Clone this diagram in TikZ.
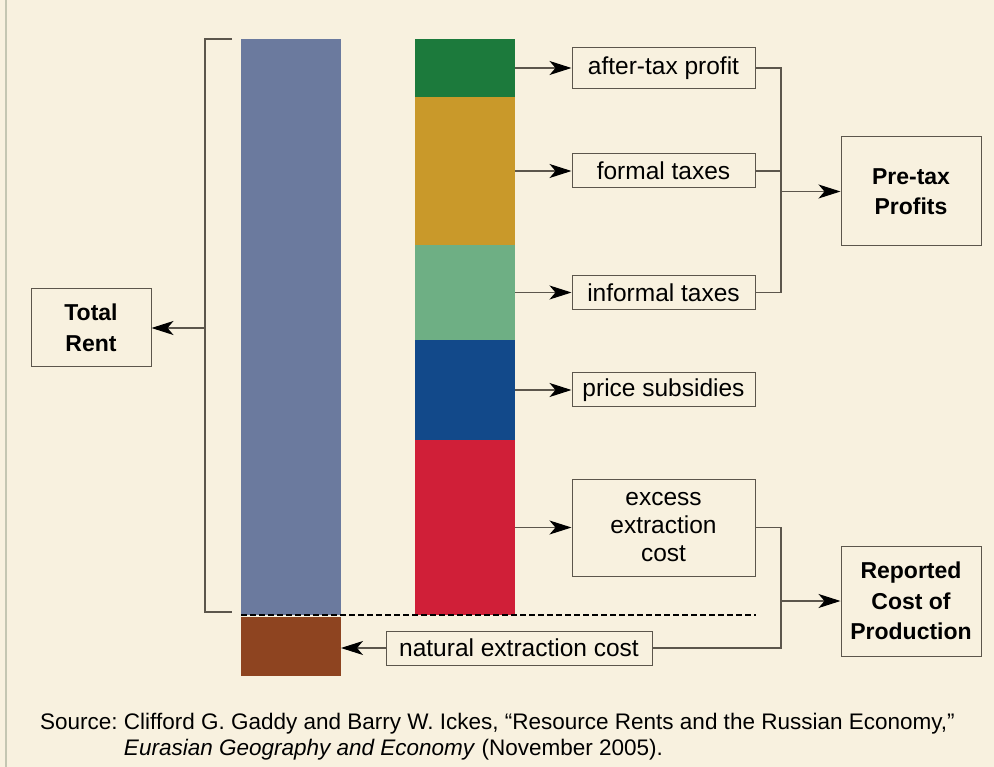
\documentclass[tikz,border=0pt]{standalone}
\usepackage{fontspec}
\setmainfont{Liberation Sans}
\usetikzlibrary{arrows.meta,positioning}
\definecolor{PaperCream}{RGB}{248,241,223}
\definecolor{EdgeGrey}{RGB}{196,198,178}
\definecolor{LineGrey}{RGB}{92,86,76}
\definecolor{RentBlue}{RGB}{107,122,158}
\definecolor{CostBrown}{RGB}{142,68,32}
\definecolor{ProfitGreen}{RGB}{28,122,60}
\definecolor{TaxGold}{RGB}{201,153,42}
\definecolor{InformalGreen}{RGB}{110,175,132}
\definecolor{SubsidyBlue}{RGB}{18,73,138}
\definecolor{ExcessRed}{RGB}{208,31,56}
\frenchspacing

\begin{document}
\begin{tikzpicture}[x=1pt,y=-1pt,
    seg/.style={fill=#1,draw=none,minimum width=100pt,inner sep=0pt,outer sep=0pt},
    itembox/.style={draw=LineGrey,line width=1pt,minimum width=183pt,inner sep=0pt,
      align=center,font=\fontsize{24.5}{28}\selectfont},
    sumbox/.style={draw=LineGrey,line width=1pt,minimum width=140pt,inner sep=0pt,
      align=center,font=\fontsize{23}{30.5}\selectfont\bfseries},
    link/.style={draw=LineGrey,line width=1.1pt},
    feed/.style={link,-{Stealth[length=22pt,width=14pt,inset=6pt,color=black]}},
    srcline/.style={anchor=base west,inner sep=0pt,font=\fontsize{22.5}{26}\selectfont}]
  % page
  \useasboundingbox (0,0) rectangle (994,767);
  \fill[PaperCream] (0,0) rectangle (994,767);
  \draw[EdgeGrey,line width=1.5pt] (6,0) -- (6,767);

  % bars
  \node[seg=RentBlue,minimum height=576pt] (rent) at (291,327) {};
  \node[seg=CostBrown,minimum height=59pt] (natcost) at (291,646.5) {};
  \foreach \name/\col/\ya/\yb in {profit/ProfitGreen/39/97,formal/TaxGold/97/245,
      informal/InformalGreen/245/340,subsidy/SubsidyBlue/340/440,excess/ExcessRed/440/615}
    \node[seg=\col,minimum height=\yb pt-\ya pt] (seg-\name) at (465,{(\ya+\yb)/2}) {};

  % item boxes
  \node[itembox,minimum height=41pt] (box-profit) at (663.5,68) {after-tax profit};
  \node[itembox,minimum height=34pt] (box-formal) at (663.5,171) {formal taxes};
  \node[itembox,minimum height=34pt] (box-informal) at (663.5,292.5) {informal taxes};
  \node[itembox,minimum height=34pt] (box-subsidy) at (663.5,390) {price subsidies};
  \node[itembox,minimum height=97pt] (box-excess) at (663.5,527.5) {excess\\extraction\\cost};
  \node[itembox,minimum width=266pt,minimum height=34pt] (natural) at (519,648) {natural extraction cost};

  % summary boxes
  \node[sumbox,minimum width=120pt,minimum height=78pt] (total) at (91,328) {Total\\Rent};
  \node[sumbox,minimum height=109pt] (pretax) at (911,191.5) {Pre-tax\\Profits};
  \node[sumbox,minimum height=110pt] (reported) at (911,601) {Reported\\Cost of\\Production};

  % bar to item arrows
  \foreach \name in {profit,formal,informal,subsidy,excess}
    \draw[feed] (seg-\name.east) -- (box-\name.west);
  \draw[feed] (natural.west) -- (natural.west -| natcost.east);

  % total rent bracket
  \coordinate (brk) at (205,328);
  \draw[link] (232,39) -| (brk |- 0,612) -- (232,612);
  \draw[feed] (brk) -- (total.east);

  % profit bracket
  \coordinate (bus) at (781,0);
  \draw[link] (box-profit.east) -- (box-profit.east -| bus) -- (box-informal.east -| bus)
    -- (box-informal.east);
  \draw[link] (box-formal.east) -- (box-formal.east -| bus);
  \draw[feed] (pretax.west -| bus) -- (pretax.west);

  % cost bracket
  \draw[link] (box-excess.east) -- (box-excess.east -| bus) -- (natural.east -| bus)
    -- (natural.east);
  \draw[feed] (reported.west -| bus) -- (reported.west);

  % dividing line
  \draw[black,line width=1.2pt,dash pattern=on 6pt off 3pt] (rent.south west) -- (rent.south west -| box-excess.east);

  % source
  \node[srcline] (src1) at (40,729)
    {Source: Clifford G. Gaddy and Barry W. Ickes, “Resource Rents and the Russian Economy,”};
  \node[srcline] (src2) at (40,755)
    {\phantom{Source: }\textit{Eurasian Geography and Economy} (November 2005).};
\end{tikzpicture}
\end{document}
